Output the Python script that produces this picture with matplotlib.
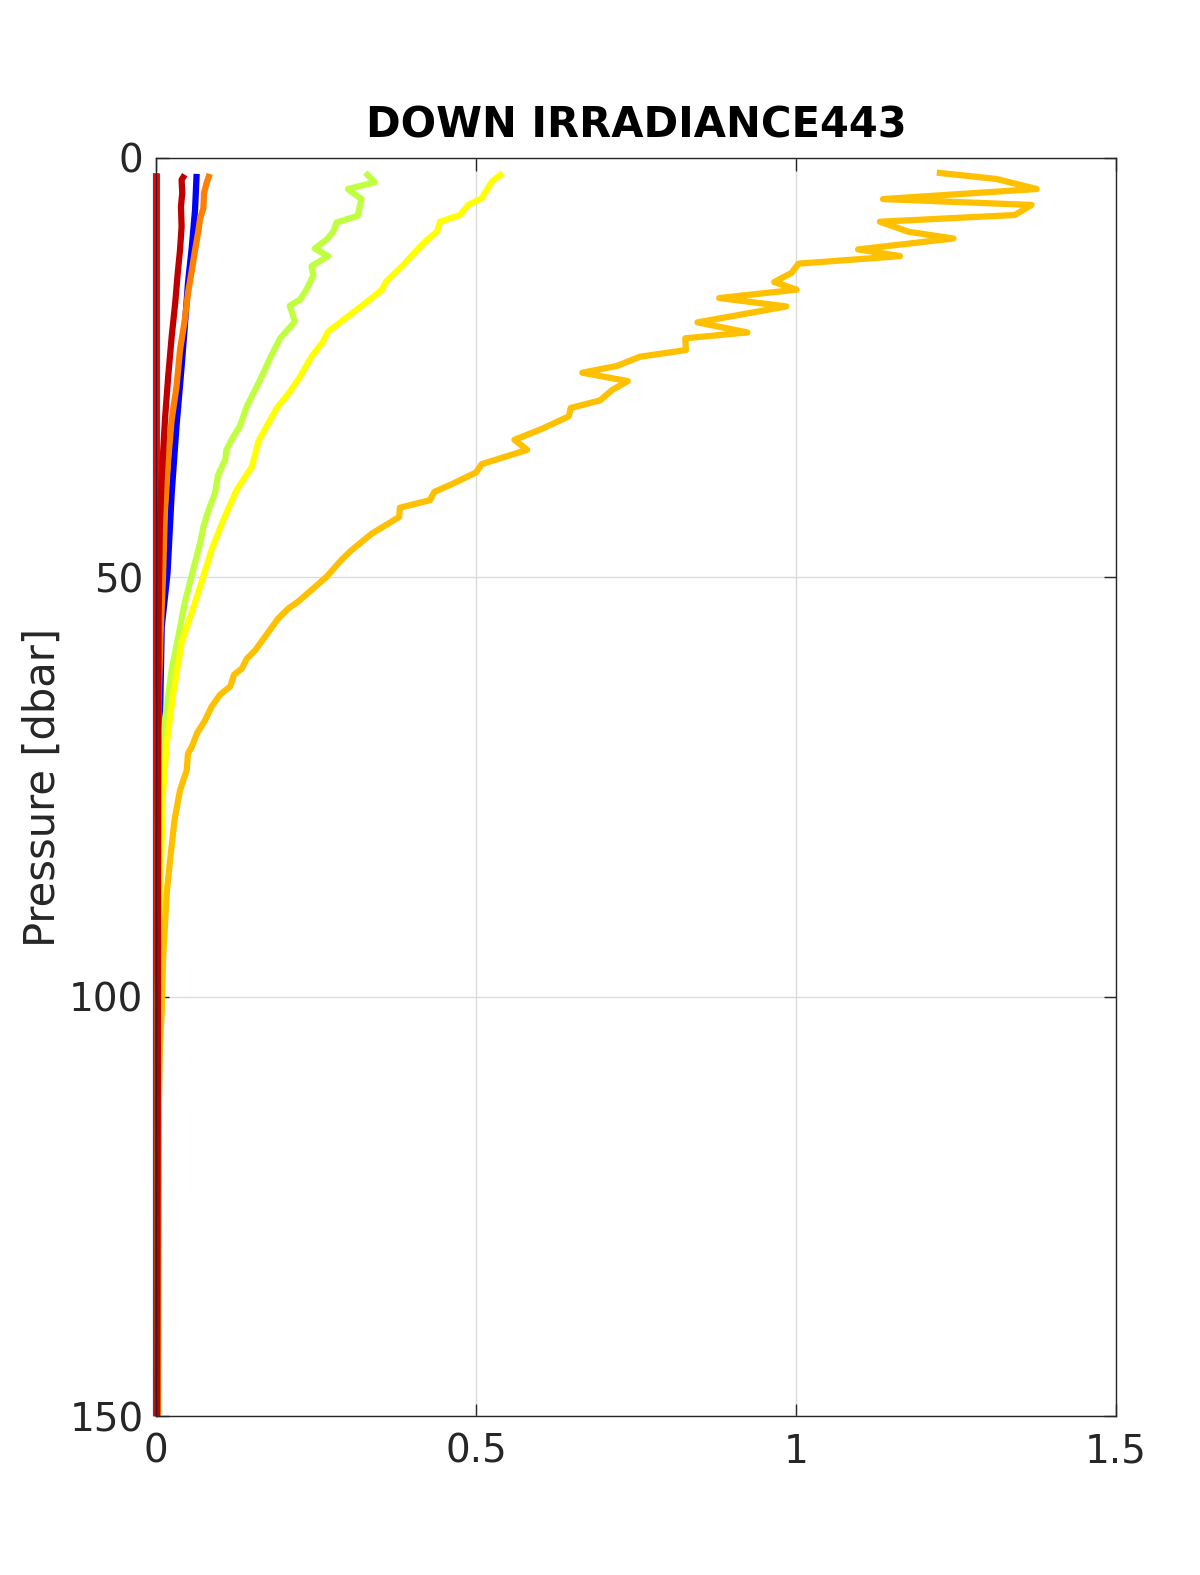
import numpy as np
import matplotlib.pyplot as plt

# profile data (irradiance vs pressure)
p_amber = [1.75, 2.5, 3.7, 4.9, 5.6, 6.8, 7.6, 8.8, 9.6, 10.9, 11.7, 12.6, 13.7, 14.8,
           15.7, 16.7, 17.7, 19.6, 20.8, 21.5, 22.9, 23.7, 24.8, 25.6, 26.6, 27.7, 28.9,
           29.8, 30.8, 32.3, 33.6, 34.8, 36.5, 37.5, 38.9, 39.8, 40.8, 41.7, 42.8, 44.8,
           46.8, 47.9, 49.9, 52.9, 53.7, 54.9, 58.7, 59.7, 60.9, 61.6, 63.0, 64.0, 65.4,
           67.0, 68.6, 70.2, 71.0, 73.0, 75.4, 78.9, 83.7, 87.7, 95.6, 101.6, 106, 115,
           130, 150]
v_amber = [1.22, 1.313, 1.376, 1.136, 1.368, 1.342, 1.131, 1.176, 1.246, 1.097, 1.1625,
           1.004, 0.993, 0.966, 1.001, 0.880, 0.985, 0.846, 0.924, 0.827, 0.828, 0.756,
           0.720, 0.666, 0.737, 0.712, 0.694, 0.648, 0.645, 0.603, 0.560, 0.580, 0.509,
           0.500, 0.462, 0.435, 0.428, 0.381, 0.380, 0.337, 0.305, 0.290, 0.267, 0.222,
           0.207, 0.191, 0.155, 0.142, 0.134, 0.122, 0.116, 0.100, 0.087, 0.077, 0.064,
           0.056, 0.050, 0.048, 0.0375, 0.029, 0.022, 0.0167, 0.011, 0.009, 0.006, 0.004,
           0.003, 0.003]

p_yellow = [1.8, 2.8, 4.8, 5.6, 6.8, 7.6, 8.8, 9.8, 11.6, 12.8, 14.7, 15.7, 16.9, 20.7,
            21.9, 23.7, 26.1, 28.1, 29.8, 32.4, 33.8, 36.8, 39.6, 43.2, 46.7, 49.9, 53.0,
            57.8, 63.8, 69.8, 75.7, 83.7, 91.7, 100, 120, 150]
v_yellow = [0.542, 0.525, 0.509, 0.488, 0.475, 0.444, 0.439, 0.423, 0.400, 0.386, 0.360,
            0.353, 0.334, 0.269, 0.261, 0.243, 0.225, 0.207, 0.189, 0.170, 0.160, 0.150,
            0.126, 0.105, 0.087, 0.074, 0.061, 0.040, 0.027, 0.0167, 0.011, 0.008, 0.006,
            0.004, 0.003, 0.003]

p_green = [1.75, 2.9, 3.7, 4.9, 6.9, 7.7, 8.8, 9.7, 10.8, 11.7, 12.9, 14.0, 15.7, 16.9,
           17.6, 19.5, 21.5, 23.9, 26.5, 29.6, 32.0, 33.2, 34.8, 36.0, 37.8, 40.0, 42.0,
           44.0, 45.9, 49.1, 53.0, 57.0, 61.0, 67.0, 71.8, 80, 100, 150]
v_green = [0.327, 0.342, 0.300, 0.321, 0.315, 0.282, 0.277, 0.267, 0.248, 0.269, 0.243,
           0.246, 0.235, 0.225, 0.209, 0.217, 0.194, 0.178, 0.1625, 0.142, 0.131, 0.121,
           0.110, 0.108, 0.097, 0.092, 0.082, 0.074, 0.069, 0.058, 0.045, 0.035, 0.0245,
           0.014, 0.008, 0.005, 0.003, 0.003]

p_orange = [1.9, 3.0, 4.2, 6.0, 7.2, 8.8, 11.0, 13.4, 16.1, 19.3, 22.9, 27.3, 31.2, 36.0,
            42.0, 49.9, 57, 65, 80, 150]
v_orange = [0.084, 0.079, 0.075, 0.074, 0.069, 0.066, 0.061, 0.056, 0.050, 0.045, 0.0375,
            0.032, 0.0245, 0.019, 0.014, 0.011, 0.007, 0.004, 0.003, 0.003]

p_blue = [1.9, 6.2, 10.6, 14.9, 20.1, 24.9, 32.0, 40.0, 49.5, 55.9, 67.8, 75, 150]
v_blue = [0.0635, 0.061, 0.056, 0.050, 0.045, 0.040, 0.032, 0.0245, 0.018, 0.009, 0.006,
          0.004, 0.003]

p_darkred = [2.0, 2.6, 4.2, 5.8, 8.2, 11.0, 13.7, 17.3, 21.3, 26.1, 31.2, 38.0, 44.0,
             55, 150]
v_darkred = [0.045, 0.040, 0.041, 0.039, 0.040, 0.0375, 0.034, 0.030, 0.0245, 0.019,
             0.014, 0.009, 0.006, 0.004, 0.002]

p_red = [1.8, 150]
v_red = [0.0005, 0.0005]

p_cyan = [1.8, 150]
v_cyan = [0.0005, 0.0005]

profiles = [
    (v_cyan, p_cyan, '#00A0FF', 4.5),
    (v_red, p_red, '#FF0000', 5.0),
    (v_blue, p_blue, '#0000FF', 4.5),
    (v_orange, p_orange, '#FF8000', 4.5),
    (v_green, p_green, '#C0FF40', 4.5),
    (v_yellow, p_yellow, '#FFFF00', 4.5),
    (v_amber, p_amber, '#FFC000', 4.5),
    (v_darkred, p_darkred, '#C00000', 4.5),
]

text_col = '#262626'

fig = plt.figure(figsize=(12, 15.75), dpi=100)
ax = fig.add_axes([0.13, 0.1009, 0.80, 0.7988])

for v, p, c, lw in profiles:
    ax.plot(v, p, color=c, linewidth=lw, solid_capstyle='butt',
            solid_joinstyle='round', clip_on=False)

ax.set_xlim(0, 1.5)
ax.set_ylim(150, 0)
ax.set_xticks([0, 0.5, 1, 1.5])
ax.set_xticklabels(['0', '0.5', '1', '1.5'])
ax.set_yticks([0, 50, 100, 150])
ax.grid(True, color='#dcdcdc', linewidth=1)
ax.set_axisbelow(True)
ax.tick_params(direction='in', length=9, width=1, top=True, right=True,
               labelsize=28, colors=text_col)
ax.tick_params(axis='x', pad=12)
ax.tick_params(axis='y', pad=9)
for s in ax.spines.values():
    s.set_color(text_col)
    s.set_linewidth(1)

ax.set_ylabel('Pressure [dbar]', fontsize=30, color=text_col, labelpad=4)
fig.text(0.53, 0.9125, 'DOWN IRRADIANCE443', ha='center', va='baseline',
         fontsize=30, fontweight='bold', color='black')

fig.savefig('out.png', dpi=100, facecolor='white')
